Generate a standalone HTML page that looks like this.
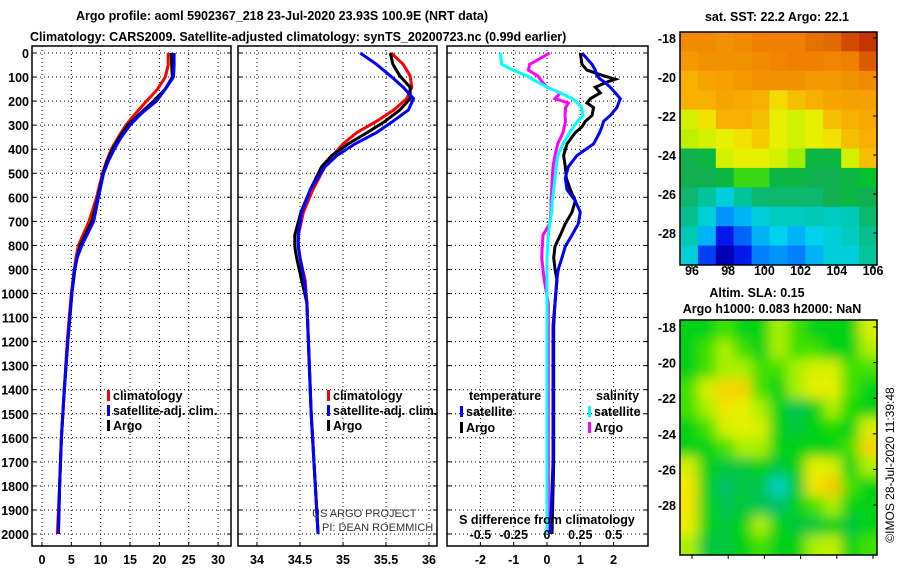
<!DOCTYPE html>
<html><head><meta charset="utf-8"><style>
body{margin:0;background:#fff}
svg{display:block;font-family:"Liberation Sans",sans-serif}
.b{font-weight:bold;font-size:12.5px}
</style></head><body>
<svg id="c" width="900" height="580" viewBox="0 0 900 580"></svg>
<script>
// ---- data ----
const depthsT = [0,50,100,150,200,250,300,350,400,450,500,600,700,800,850,900,1000,1200,1400,1600,1800,2000];
const tempClim = [21.5,21.5,21,19.7,17.8,16,14.3,13,11.8,11,10.3,9.3,8,6.2,5.8,5.5,5,4.3,3.8,3.3,3,2.6];
const tempSat  = [22.5,22.5,22.4,21,19.5,17,15,13.5,12.3,11.3,10.5,9.6,8.8,6.8,6,5.5,5.1,4.4,3.8,3.3,3,2.8];
const tempArgo = [22,22.1,22.2,21,19,16.8,14.6,13.2,12,11.1,10.4,9.5,8.5,6.5,6,5.6,5.1,4.4,3.8,3.3,3,2.8];
const depthsS = [0,47,95,142,190,237,284,331,378,426,473,568,662,757,804,851,946,1040,1500,2000];
const salClim = [35.56,35.7,35.78,35.8,35.74,35.59,35.39,35.16,35.0,34.88,34.79,34.65,34.54,34.48,34.48,34.5,34.56,34.58,34.63,34.71];
const salSat  = [35.2,35.39,35.55,35.7,35.82,35.76,35.58,35.39,35.14,34.93,34.79,34.62,34.52,34.48,34.48,34.5,34.55,34.58,34.63,34.71];
const salArgo = [35.55,35.58,35.66,35.78,35.78,35.66,35.49,35.28,35.06,34.87,34.75,34.62,34.51,34.44,34.44,34.46,34.52,34.58,34.63,34.71];
const depthsD = [0,47,71,95,109,118,142,166,190,208,227,260,284,307,331,378,426,473,520,568,615,662,710,757,804,851,899,946,1040,1135,1700,2000];
const dTsat  = [1.05,1.35,1.45,1.5,1.6,1.7,1.9,2.05,2.2,2.15,2.1,1.9,1.7,1.65,1.58,1.4,0.9,0.64,0.55,0.6,0.85,1.0,0.94,0.75,0.55,0.45,0.34,0.29,0.24,0.18,0.18,0.1];
const dTargo = [1.0,1.05,1.2,1.7,2.05,1.85,1.45,1.6,1.3,1.2,1.4,1.35,1.15,1.05,0.85,0.6,0.5,0.55,0.58,0.7,0.85,0.75,0.55,0.4,0.24,0.2,0.24,0.3,0.24,0.2,0.2,0.15];
const dSsat  = [-0.35,-0.34,-0.255,-0.15,-0.11,-0.08,0,0.1,0.19,0.23,0.26,0.27,0.23,0.2,0.17,0.12,0.08,0.07,0.06,0.05,0.04,0.035,0.02,0.01,0.005,0,0,0,0,0,0,0];
const dSargo = [0.02,-0.13,-0.14,-0.07,-0.05,-0.04,0,0.1,0.06,0.16,0.14,0.135,0.14,0.13,0.12,0.08,0.06,0.045,0.04,0.035,0.03,0.03,0.02,-0.03,-0.035,-0.04,-0.03,-0.02,0.01,0.01,0.01,0.01];
const depthTicks = [0,100,200,300,400,500,600,700,800,900,1000,1100,1200,1300,1400,1500,1600,1700,1800,1900,2000];
const tTicks = [0,5,10,15,20,25,30];
const sTicks = [34,34.5,35,35.5,36];
const sTickLabels = ["34","34.5","35","35.5","36"];
const dTTicks = [-2,-1,0,1,2];
const dSTicks = [-0.5,-0.25,0,0.25,0.5];
const dSTickLabels = ["-0.5","-0.25","0","0.25","0.5"];
const lonTicks = [96,98,100,102,104,106];
const latTicks = [-18,-20,-22,-24,-26,-28];
const sstGrid = [
[.82,.82,.8,.82,.85,.85,.85,.87,.88,.92,.95],
[.78,.8,.8,.8,.82,.84,.85,.85,.84,.85,.9],
[.72,.75,.76,.78,.8,.8,.8,.78,.78,.8,.82],
[.72,.72,.75,.74,.72,.66,.7,.72,.75,.76,.76],
[.6,.65,.72,.72,.7,.62,.6,.62,.7,.72,.74],
[.58,.6,.62,.65,.68,.62,.6,.62,.65,.7,.72],
[.4,.42,.6,.62,.62,.6,.55,.42,.42,.6,.7],
[.4,.4,.42,.5,.5,.42,.42,.4,.4,.42,.45],
[.38,.35,.3,.35,.38,.38,.38,.38,.4,.42,.4],
[.36,.3,.22,.25,.3,.32,.32,.33,.32,.33,.38],
[.33,.25,.12,.18,.25,.28,.25,.28,.3,.32,.36],
[.3,.15,.05,.12,.2,.22,.2,.25,.3,.3,.35]];
const slaGrid = [
[.45,.45,.5,.45,.45,.55,.5,.45,.45,.45,.6],
[.45,.5,.55,.5,.45,.55,.5,.5,.45,.45,.55],
[.45,.5,.55,.55,.5,.5,.55,.6,.6,.5,.5],
[.5,.6,.68,.68,.5,.45,.55,.62,.62,.5,.45],
[.5,.55,.65,.62,.55,.45,.4,.45,.55,.48,.45],
[.45,.5,.6,.62,.6,.45,.42,.45,.48,.45,.6],
[.45,.45,.5,.55,.55,.45,.45,.45,.45,.5,.68],
[.6,.45,.42,.42,.45,.42,.45,.62,.6,.45,.55],
[.64,.45,.38,.42,.4,.32,.42,.65,.7,.5,.45],
[.65,.45,.4,.42,.4,.38,.45,.5,.55,.45,.45],
[.62,.45,.42,.45,.55,.45,.42,.42,.45,.42,.45],
[.55,.42,.42,.45,.5,.45,.45,.55,.58,.45,.5]];

// ---- helpers ----
const svg = document.getElementById('c');
const NS = 'http://www.w3.org/2000/svg';
function mk(tag, attrs, parent){const e=document.createElementNS(NS,tag);for(const k in attrs)e.setAttribute(k,attrs[k]);(parent||svg).appendChild(e);return e;}
function txt(x,y,s,anchor,cls,size){const e=mk('text',{x:x,y:y,'text-anchor':anchor||'start',class:cls||'b'});if(size)e.setAttribute('font-size',size);e.textContent=s;return e;}
const yD = d => 53 + d*0.2405;
const TOP=40, BOT=546;
const xT = v => 42 + v*5.87;
const xS = v => 257 + (v-34)*86;
const xDT = v => 547 + v*33.3;
const xDS = v => 547 + v*133.2;

let t;
t=txt(282,20,'Argo profile: aoml 5902367_218 23-Jul-2020 23.93S 100.9E (NRT data)','middle');


t=txt(30,41,'Climatology: CARS2009. Satellite-adjusted climatology: synTS_20200723.nc (0.99d earlier)','start');



function panel(x0,x1,name,xticks,xfun,labels){
  const g=mk('g',{});
  
  
  mk('rect',{x:x0,y:TOP+6,width:x1-x0,height:BOT-TOP-6,fill:'#fff',stroke:'#000','stroke-width':1.5},g);
  depthTicks.forEach(d=>{mk('line',{x1:x0,x2:x1,y1:yD(d),y2:yD(d),stroke:'#000','stroke-dasharray':'1,3','stroke-width':1},g);
    mk('line',{x1:x0,x2:x0+4,y1:yD(d),y2:yD(d),stroke:'#000'},g);mk('line',{x1:x1-4,x2:x1,y1:yD(d),y2:yD(d),stroke:'#000'},g);});
  xticks.forEach((v,i)=>{const x=xfun(v);mk('line',{x1:x,x2:x,y1:TOP+6,y2:BOT,stroke:'#000','stroke-dasharray':'1,3'},g);
    mk('line',{x1:x,x2:x,y1:BOT-4,y2:BOT,stroke:'#000'},g);
    const l=txt(x,564,labels?labels[i]:String(v),'middle');
    
    });
  return g;
}
function line(xs,ds,xfun,color,name,w){
  const pts=xs.map((v,i)=>xfun(v).toFixed(1)+','+yD(ds[i]).toFixed(1)).join(' ');
  const p=mk('polyline',{points:pts,fill:'none',stroke:color,'stroke-width':w||3,'stroke-linejoin':'miter'});
  
  
}
depthTicks.forEach(d=>{const l=txt(29,yD(d)+5,String(d),'end');
  
  });

panel(32,231,'temperature-panel',tTicks,xT);
line(tempClim,depthsT,xT,'#f00','temp-climatology-line');
line(tempArgo,depthsT,xT,'#000','temp-argo-line');
line(tempSat,depthsT,xT,'#00f','temp-satellite-line');

panel(238,437,'salinity-panel',sTicks,xS,sTickLabels);
line(salClim,depthsS,xS,'#f00','sal-climatology-line');
line(salArgo,depthsS,xS,'#000','sal-argo-line');
line(salSat,depthsS,xS,'#00f','sal-satellite-line');

panel(447,648,'difference-panel',dTTicks,xDT);
line(dSargo,depthsD,xDS,'#f0f','sal-diff-argo-line');
line(dSsat,depthsD,xDS,'#0ff','sal-diff-satellite-line');
line(dTargo,depthsD,xDT,'#000','temp-diff-argo-line');
line(dTsat,depthsD,xDT,'#00f','temp-diff-satellite-line');

function leg(x,y,color,label,name){
  const g=mk('g',{});
  
  
  mk('rect',{x:x,y:y-10,width:3,height:11,fill:color},g);
  const e=document.createElementNS(NS,'text');e.setAttribute('x',x+6);e.setAttribute('y',y);e.setAttribute('class','b');e.textContent=label;g.appendChild(e);
}
leg(107,400,'#f00','climatology','legend-climatology');
leg(107,415,'#00f','satellite-adj. clim.','legend-satellite-adj');
leg(107,430,'#000','Argo','legend-argo');
leg(327,400,'#f00','climatology','legend2-climatology');
leg(327,415,'#00f','satellite-adj. clim.','legend2-satellite-adj');
leg(327,430,'#000','Argo','legend2-argo');
t=txt(469,400,'temperature','start');
t=txt(596,400,'salinity','start');
leg(460,416,'#00f','satellite','legend-temp-satellite');
leg(460,432,'#000','Argo','legend-temp-argo');
leg(588,416,'#0ff','satellite','legend-sal-satellite');
leg(588,432,'#f0f','Argo','legend-sal-argo');
t=txt(547,524,'S difference from climatology','middle');
dSTicks.forEach((v,i)=>{const l=txt(xDS(v),539,dSTickLabels[i],'middle');
  
  });
t=txt(312,517,'US ARGO PROJECT','start','n','11');t.setAttribute('fill','#333');
t=txt(322,531,'PI: DEAN ROEMMICH','start','n','11');t.setAttribute('fill','#333');

const cstops=[[0,[0,0,128]],[0.1,[0,0,230]],[0.2,[0,128,255]],[0.28,[0,210,240]],[0.34,[0,200,170]],[0.4,[16,176,80]],[0.47,[0,200,30]],[0.55,[160,240,0]],[0.63,[240,240,0]],[0.72,[248,176,0]],[0.85,[240,128,0]],[1,[176,16,0]]];
const cstops2=[[0,[0,0,128]],[0.3,[0,220,220]],[0.36,[0,190,130]],[0.42,[0,200,60]],[0.47,[0,216,0]],[0.55,[170,240,0]],[0.63,[240,240,0]],[0.72,[248,190,0]],[1,[240,120,0]]];
function cmapG(stops,v){for(let i=1;i<stops.length;i++){if(v<=stops[i][0]){const a=stops[i-1],b=stops[i];const f=(v-a[0])/(b[0]-a[0]);
  return 'rgb('+a[1].map((c,k)=>Math.round(c+(b[1][k]-c)*f)).join(',')+')';}}const l=stops[stops.length-1][1];return 'rgb('+l.join(',')+')';}

function map(x0,y0,w,h,grid,name,lat18,latStep,blur,stops){
  const g=mk('g',{});
  
  
  const cid='clip'+name;
  const cp=mk('clipPath',{id:cid},g);mk('rect',{x:x0,y:y0,width:w,height:h},cp);
  const inner=mk('g',{'clip-path':'url(#'+cid+')'},g);
  const tgt=blur?mk('g',{filter:'url(#blr)'},inner):inner;
  const R=grid.length,C=grid[0].length,cw=w/C,ch=h/R;
  grid.forEach((row,r)=>row.forEach((v,c)=>{mk('rect',{x:x0+c*cw-(blur&&c==0?cw:0),y:y0+r*ch-(blur&&r==0?ch:0),width:cw+0.6+(blur&&(c==0||c==C-1)?cw:0),height:ch+0.6+(blur&&(r==0||r==R-1)?ch:0),fill:cmapG(stops,v)},tgt);}));
  mk('rect',{x:x0,y:y0,width:w,height:h,fill:'none',stroke:'#000','stroke-width':1.5},g);
  latTicks.forEach(l=>{const y=lat18+(-18-l)*latStep;mk('line',{x1:x0+w-4,x2:x0+w,y1:y,y2:y,stroke:'#000'},g);
    const e=txt(x0-4,y+5,String(l),'end');
    
    });
  lonTicks.forEach(l=>{const x=692+(l-96)*18.1;mk('line',{x1:x,x2:x,y1:y0+h,y2:y0+h+4,stroke:'#000'},g);});
}
const defs=mk('defs',{});const f=mk('filter',{id:'blr',x:'-10%',y:'-10%',width:'120%',height:'120%'},defs);mk('feGaussianBlur',{stdDeviation:6},f);
map(680,32,197,233,sstGrid,'sst-map',38,19.5,false,cstops);
map(680,320,197,235,slaGrid,'sla-map',327,17.8,true,cstops2);
lonTicks.forEach(l=>{const e=txt(692+(l-96)*18.1,275,String(l),'middle');
  
  });
t=txt(777,21,'sat. SST: 22.2 Argo: 22.1','middle');
t=txt(757,297,'Altim. SLA: 0.15','middle');
t=txt(772,313,'Argo h1000: 0.083 h2000: NaN','middle');
t=txt(0,0,'©IMOS 28-Jul-2020 11:39:48','middle','n','12');
t.setAttribute('transform','translate(894,465) rotate(-90)');


</script>
</body></html>
